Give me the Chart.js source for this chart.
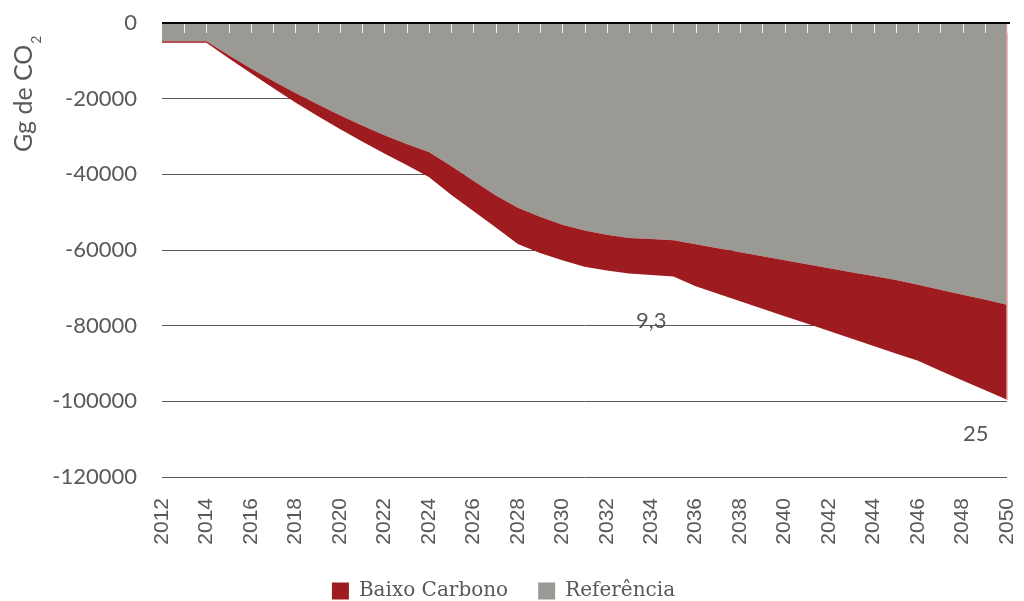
<!DOCTYPE html>
<html>
<head>
<meta charset="utf-8">
<script src="https://cdn.jsdelivr.net/npm/chart.js@4/dist/chart.umd.min.js"></script>
<style>
  html, body { margin: 0; padding: 0; background: #ffffff; }
  #wrap { width: 1024px; height: 601px; position: relative; }
</style>
</head>
<body>
<div id="wrap"><canvas id="c" width="1024" height="601"></canvas></div>
<script>
const years = ["2012","2013","2014","2015","2016","2017","2018","2019","2020","2021",
  "2022","2023","2024","2025","2026","2027","2028","2029","2030","2031",
  "2032","2033","2034","2035","2036","2037","2038","2039","2040","2041",
  "2042","2043","2044","2045","2046","2047","2048","2049","2050"];

const referencia = [-4800,-4800,-4800,-8500,-12000,-15300,-18500,-21500,-24400,-27100,
  -29700,-32000,-34100,-37800,-41700,-45500,-48800,-51200,-53300,-54850,
  -56000,-56800,-57100,-57400,-58500,-59550,-60600,-61650,-62700,-63750,
  -64800,-65850,-66900,-67950,-69200,-70500,-71800,-73100,-74500];

const baixoCarbono = [-5200,-5200,-5200,-9300,-13300,-17200,-21000,-24600,-28000,-31300,
  -34500,-37500,-40700,-45400,-49700,-54000,-58400,-60800,-62700,-64400,
  -65450,-66200,-66600,-67000,-69600,-71570,-73540,-75510,-77480,-79450,
  -81420,-83390,-85360,-87330,-89300,-91900,-94500,-97000,-99600];

const yTicks = [0,-20000,-40000,-60000,-80000,-100000,-120000];
const notes = ["9,3","25"];
const noteYears = [2034, 2048.6];
const noteValues = [-78700, -108600];

const TEXT = '#595959';
const RED = '#9E1C1F';
const GRAY = '#9B9994';

const overlay = {
  id: 'overlay',
  afterDatasetsDraw(chart) {
    const ctx = chart.ctx;
    const xs = chart.scales.x, ys = chart.scales.y;
    const ca = chart.chartArea;
    const y0 = ys.getPixelForValue(0);
    ctx.save();
    // light edge on the right of the areas
    ctx.strokeStyle = '#e3a3a3';
    ctx.lineWidth = 1.5;
    ctx.beginPath();
    ctx.moveTo(ca.right, y0);
    ctx.lineTo(ca.right, ys.getPixelForValue(baixoCarbono[baixoCarbono.length - 1]));
    ctx.stroke();
    // white tick marks on the zero axis
    ctx.strokeStyle = '#eeeeee';
    ctx.lineWidth = 1;
    for (let i = 1; i < years.length; i++) {
      const x = Math.round(xs.getPixelForValue(i)) + 0.5;
      ctx.beginPath(); ctx.moveTo(x, y0); ctx.lineTo(x, y0 + 10); ctx.stroke();
    }
    // black zero axis line
    ctx.strokeStyle = '#000000';
    ctx.lineWidth = 2;
    ctx.beginPath(); ctx.moveTo(ca.left, y0); ctx.lineTo(ca.right + 3, y0); ctx.stroke();
    // annotations
    ctx.fillStyle = TEXT;
    ctx.font = '22px Lato';
    ctx.textAlign = 'center';
    ctx.textBaseline = 'middle';
    for (let k = 0; k < notes.length; k++) {
      const idx = noteYears[k] - 2012;
      const x = xs.getPixelForValue(0) + (xs.getPixelForValue(1) - xs.getPixelForValue(0)) * idx;
      ctx.fillText(notes[k], x, ys.getPixelForValue(noteValues[k]));
    }
    // y axis title
    ctx.translate(32, 152);
    ctx.rotate(-Math.PI / 2);
    ctx.textAlign = 'left';
    ctx.textBaseline = 'alphabetic';
    ctx.font = '25px Lato';
    const main = 'Gg de CO';
    ctx.fillText(main, 0, 0);
    const w = ctx.measureText(main).width;
    ctx.font = '14px Lato';
    ctx.fillText('2', w + 1, 9);
    ctx.restore();
  }
};

new Chart(document.getElementById('c'), {
  type: 'line',
  data: {
    labels: years,
    datasets: [
      { label: 'Baixo Carbono', data: baixoCarbono, fill: '+1', backgroundColor: RED,
        borderColor: RED, borderWidth: 0, pointRadius: 0, tension: 0 },
      { label: 'Referência', data: referencia, fill: 'origin', backgroundColor: GRAY,
        borderColor: GRAY, borderWidth: 0, pointRadius: 0, tension: 0 }
    ]
  },
  options: {
    responsive: false,
    animation: false,
    devicePixelRatio: 1,
    layout: { padding: { left: 0, right: 17, top: 23, bottom: -10 } },
    plugins: {
      tooltip: { enabled: false },
      legend: {
        position: 'bottom',
        labels: {
          color: TEXT,
          font: { family: 'DejaVu Serif', size: 20 },
          boxWidth: 17, boxHeight: 17, padding: 30
        }
      }
    },
    scales: {
      x: {
        type: 'category',
        afterFit: (s) => { s.height = 74; s.paddingLeft = 0; s.paddingRight = 0; },
        grid: { display: false, drawTicks: false },
        border: { display: false },
        ticks: {
          autoSkip: false, maxRotation: 90, minRotation: 90, padding: 21,
          color: TEXT, font: { family: 'Liberation Sans', size: 21 },
          callback: function(v, i) { return i % 2 === 0 ? years[i] : ''; }
        }
      },
      y: {
        min: -120000, max: 0,
        afterBuildTicks: (s) => { s.ticks = yTicks.map(v => ({ value: v })); },
        afterFit: (s) => { s.width = 162; s.paddingTop = 0; s.paddingBottom = 0; },
        grid: { color: '#5a5a5a', lineWidth: 1, drawTicks: false },
        border: { display: false },
        ticks: { color: TEXT, font: { family: 'Lato', size: 22 }, padding: 25,
          callback: (v) => String(v) }
      }
    }
  },
  plugins: [overlay]
});
</script>
</body>
</html>
